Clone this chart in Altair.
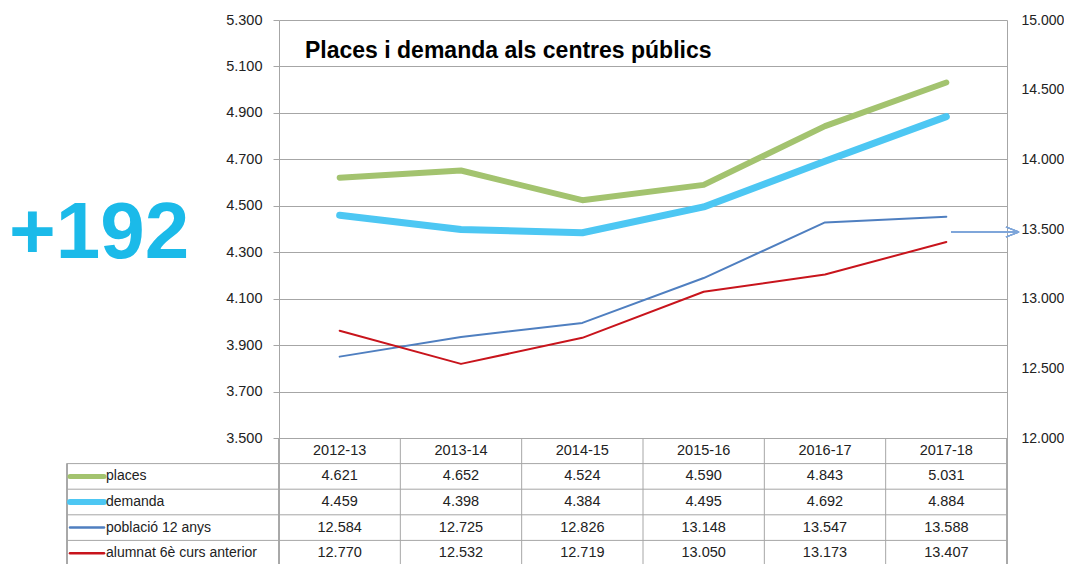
import altair as alt
import pandas as pd

years = ["2012-13", "2013-14", "2014-15", "2015-16", "2016-17", "2017-18"]
series = ["places", "demanda", "població 12 anys", "alumnat 6è curs anterior"]
places = [4621, 4652, 4524, 4590, 4843, 5031]
demanda = [4459, 4398, 4384, 4495, 4692, 4884]
poblacio = [12584, 12725, 12826, 13148, 13547, 13588]
alumnat = [12770, 12532, 12719, 13050, 13173, 13407]
left_ticks = [3500, 3700, 3900, 4100, 4300, 4500, 4700, 4900, 5100, 5300]
right_ticks = [12000, 12500, 13000, 13500, 14000, 14500, 15000]
colors = ["#A3C36F", "#4DC7F3", "#4F7FC0", "#C8141C"]
widths = [6, 7, 2, 2]
swatch_widths = [5, 6, 2.5, 2.5]
title_text = "Places i demanda als centres públics"
callout = "+192"

W, H = 728, 418
STEP = W / len(years)
FONT = "Liberation Sans"
GRID = "#A6A6A6"
TXT = "#222222"

values_by_series = {series[0]: places, series[1]: demanda, series[2]: poblacio, series[3]: alumnat}


def fmt(v):
    return f"{v:,}".replace(",", ".")


x_scale = alt.Scale(type="point", padding=0.5, domain=years)
xenc = alt.X("year:N", sort=years, scale=x_scale, axis=None)
t_scale = alt.Scale(domain=[0, 5], range=[H, H + 128], nice=False, zero=False)
label_expr = "replace(format(datum.value, ','), ',', '.')"

left_axis = alt.Axis(orient="left", values=left_ticks, labelExpr=label_expr, grid=True,
                     gridColor=GRID, domainColor=GRID, tickColor=GRID, tickSize=6,
                     labelPadding=11, labelFont=FONT, labelFontSize=14.5, labelColor=TXT,
                     title=None)
right_axis = alt.Axis(orient="right", values=right_ticks, labelExpr=label_expr, grid=False,
                      domainColor=GRID, ticks=False, labelPadding=14, labelFont=FONT,
                      labelFontSize=14, labelColor=TXT, title=None)

layers = []
for i, s in enumerate(series):
    d = pd.DataFrame({"year": years, "value": values_by_series[s]})
    if i < 2:
        sc = alt.Scale(domain=[3500, 5300], nice=False, zero=False)
        ax = left_axis if i == 0 else None
    else:
        sc = alt.Scale(domain=[12000, 15000], nice=False, zero=False)
        ax = right_axis if i == 2 else None
    layers.append(
        alt.Chart(d).mark_line(color=colors[i], strokeWidth=widths[i], strokeCap="round",
                               strokeJoin="round").encode(
            x=xenc, y=alt.Y("value:Q", scale=sc, axis=ax)
        )
    )

# table data
tab = [{"year": y, "row": 0.5, "label": y} for y in years]
for i, s in enumerate(series):
    for y, v in zip(years, values_by_series[s]):
        tab.append({"year": y, "row": i + 1.5, "label": fmt(v)})
df_tab = pd.DataFrame(tab)
df_hlines = pd.DataFrame({"r": [1, 2, 3, 4, 5]})
df_vlines = pd.DataFrame({"year": years[1:], "r0": [0] * 5, "r1": [5] * 5})

table_text = alt.Chart(df_tab).mark_text(font=FONT, fontSize=14.5, color=TXT, baseline="middle").encode(
    x=xenc,
    y=alt.Y("row:Q", scale=t_scale, axis=None),
    text="label:N",
)
layers.append(table_text)

layers.append(alt.Chart(df_hlines).mark_rule(color=GRID, strokeWidth=1).encode(
    x=alt.value(-212), x2=alt.value(W),
    y=alt.Y("r:Q", scale=t_scale, axis=None),
))
layers.append(alt.Chart(df_vlines).mark_rule(color=GRID, strokeWidth=1, xOffset=-STEP / 2).encode(
    x=xenc,
    y=alt.Y("r0:Q", scale=t_scale, axis=None),
    y2="r1:Q",
))
layers.append(alt.Chart(df_hlines).mark_rule(color=GRID).encode(
    x=alt.value(0), y=alt.value(H), y2=alt.value(H + 128)))
layers.append(alt.Chart(df_hlines).mark_rule(color=GRID).encode(
    x=alt.value(W), y=alt.value(H), y2=alt.value(H + 128)))
layers.append(alt.Chart(df_hlines).mark_rule(color=GRID).encode(
    x=alt.value(-212), y=alt.value(H + 25.6), y2=alt.value(H + 128)))

for i, s in enumerate(series):
    d = pd.DataFrame({"series": [s], "row": [i + 1.5]})
    layers.append(alt.Chart(d).mark_rule(color=colors[i], strokeWidth=swatch_widths[i],
                                         strokeCap="round").encode(
        x=alt.value(-209), x2=alt.value(-175),
        y=alt.Y("row:Q", scale=t_scale, axis=None),
    ))
    layers.append(alt.Chart(d).mark_text(font=FONT, fontSize=14, color=TXT, align="left",
                                         baseline="middle").encode(
        x=alt.value(-173),
        y=alt.Y("row:Q", scale=t_scale, axis=None),
        text="series:N",
    ))

layers.append(alt.Chart(pd.DataFrame({"t": [title_text]})).mark_text(
    font=FONT, fontSize=23, fontWeight="bold", color="#000000", align="left", baseline="alphabetic"
).encode(x=alt.value(26), y=alt.value(38), text="t:N"))

layers.append(alt.Chart(pd.DataFrame({"t": [callout]})).mark_text(
    font=FONT, fontSize=80, fontWeight="bold", color="#1BBAE9", align="left", baseline="alphabetic"
).encode(x=alt.value(-270), y=alt.value(238), text="t:N"))

ARROW = "#7FA6DA"
layers.append(alt.Chart(df_hlines).mark_rule(color=ARROW, strokeWidth=1.3).encode(
    x=alt.value(672), x2=alt.value(740), y=alt.value(212)))
layers.append(alt.Chart(df_hlines).mark_rule(color=ARROW, strokeWidth=1.3).encode(
    x=alt.value(727), x2=alt.value(740), y=alt.value(207), y2=alt.value(212)))
layers.append(alt.Chart(df_hlines).mark_rule(color=ARROW, strokeWidth=1.3).encode(
    x=alt.value(727), x2=alt.value(740), y=alt.value(217), y2=alt.value(212)))

chart = alt.layer(*layers).resolve_scale(y="independent").properties(
    width=W, height=H, autosize="none",
    padding={"left": 271, "top": 12, "right": 57, "bottom": 128},
    background="white",
).configure_view(stroke=None)

chart.save("out.html", embed_options={"renderer": "svg", "actions": False})
